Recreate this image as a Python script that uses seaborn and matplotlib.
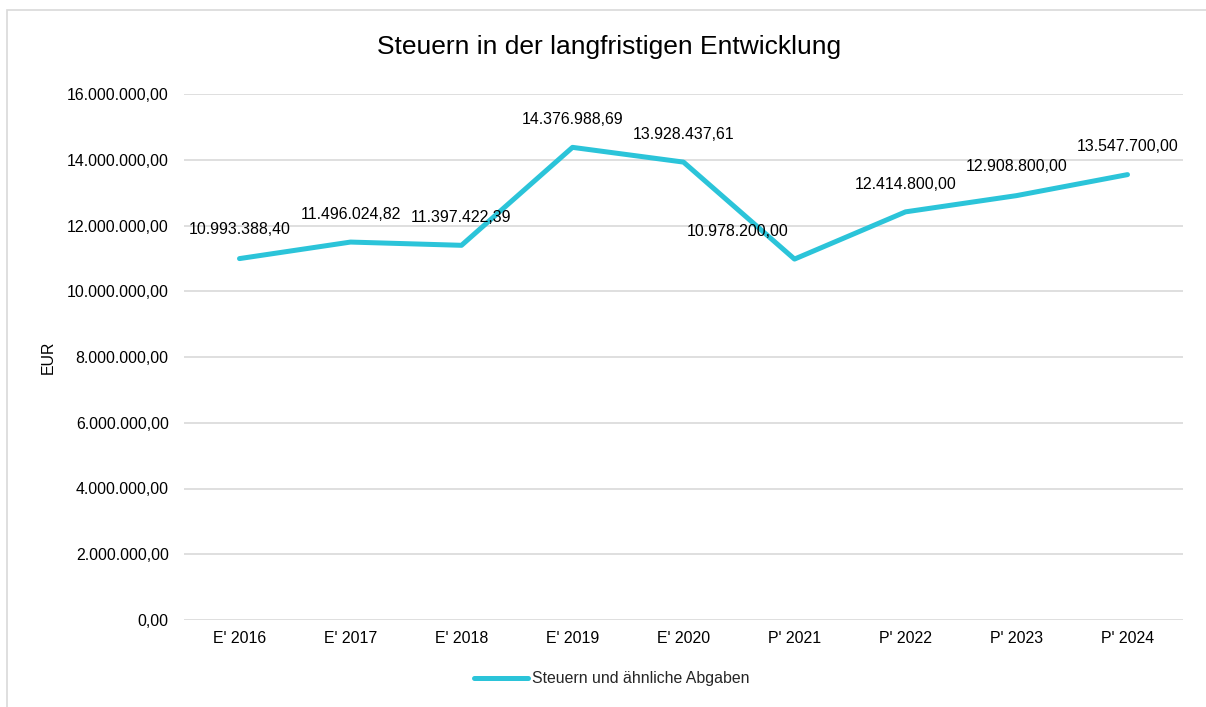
import matplotlib
matplotlib.use("Agg")
import matplotlib.pyplot as plt
import seaborn as sns
import pandas as pd
from matplotlib.patches import Rectangle
from matplotlib.lines import Line2D

categories = ["E' 2016", "E' 2017", "E' 2018", "E' 2019", "E' 2020",
              "P' 2021", "P' 2022", "P' 2023", "P' 2024"]
values = [10993388.40, 11496024.82, 11397422.39, 14376988.69, 13928437.61,
          10978200.00, 12414800.00, 12908800.00, 13547700.00]
series_name = "Steuern und ähnliche Abgaben"
title = "Steuern in der langfristigen Entwicklung"
y_ticks = [0, 2000000, 4000000, 6000000, 8000000, 10000000, 12000000, 14000000, 16000000]

def de_fmt(v):
    s = f"{v:,.2f}"
    return s.replace(",", "X").replace(".", ",").replace("X", ".")

sns.set_theme(style="white")
plt.rcParams['font.family'] = ['Liberation Sans', 'DejaVu Sans']

FS = 11.4
df = pd.DataFrame({"cat": categories, "val": values, "series": series_name})

fig = plt.figure(figsize=(12.06, 7.07), dpi=100)
ax = fig.add_axes([184/1206, 1 - 620/707, (1183 - 184)/1206, (620 - 94)/707])

color = "#2BC4D9"
x = list(range(len(categories)))
df["x"] = x
sns.lineplot(data=df, x="x", y="val", ax=ax, color=color, linewidth=3.6,
             legend=False, solid_capstyle="round", solid_joinstyle="round")

ax.set_xlim(-0.5, len(categories) - 0.5)
ax.set_ylim(0, 16000000)
ax.set_yticks(y_ticks)
ax.set_yticklabels([de_fmt(v) for v in y_ticks], fontsize=FS, color="#000000")
ax.set_xticks(x)
ax.set_xticklabels(categories, fontsize=FS, color="#000000")
ax.tick_params(axis="y", length=0, pad=11)
ax.tick_params(axis="x", length=0, pad=8)
ax.grid(axis="y", color="#d9d9d9", linewidth=1.2)
ax.set_axisbelow(True)
for s in ax.spines.values():
    s.set_visible(False)
ax.set_xlabel("")
ax.set_ylabel("EUR", fontsize=FS, labelpad=8, color="#000000")

# data labels (offsets in points)
offsets = [(0, 21), (0, 20), (0, 20), (0, 20), (0, 20),
           (-41, 20), (0, 20), (0, 21), (0, 20)]
for xi, v, (dx, dy) in zip(x, values, offsets):
    ax.annotate(de_fmt(v), (xi, v), xytext=(dx, dy), textcoords="offset points",
                ha="center", va="center", fontsize=FS, color="#000000")

fig.text(609/1206, 1 - 47/707, title, ha="center", va="center", fontsize=19, color="#000000")

# legend
handle = Line2D([0], [0], color=color, linewidth=3.6, solid_capstyle="round")
fig.legend([handle], [series_name], loc="center", bbox_to_anchor=(612/1206, 1 - 679/707),
           frameon=False, fontsize=FS, handlelength=3.4, handletextpad=0.25)

# outer chart border
fig.patches.append(Rectangle((7/1206, -0.01), 1.2, 1 - 10/707 + 0.01, transform=fig.transFigure,
                             fill=False, edgecolor="#d9d9d9", linewidth=1.2))

fig.savefig("out.png", dpi=100, facecolor="white")
